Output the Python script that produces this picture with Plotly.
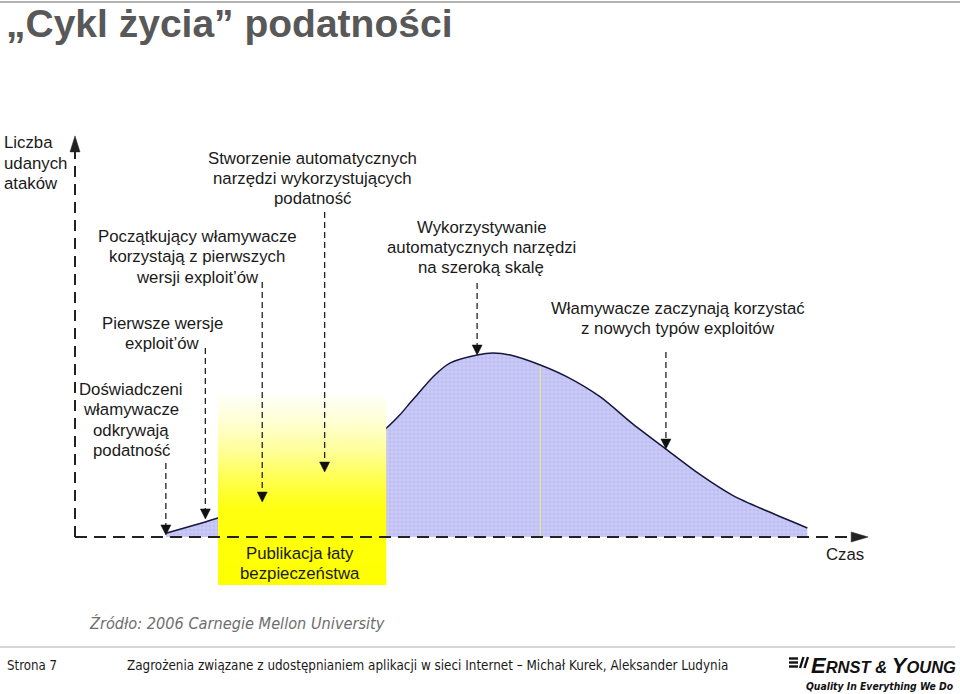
import plotly.graph_objects as go

# ---------------- data ----------------
# time axis (arbitrary units, 0 = vertical axis) and number of successful attacks (peak = 100)
curve_t = [11.5, 18.1, 23.4, 28.5, 33.5, 39.4, 41.1, 42.4, 43.3, 45.3, 47.5, 50.9, 52.9,
           55.1, 58.9, 62.3, 66.5, 70.6, 74.8, 79.1, 83.3, 87.6, 92.7]
curve_c = [2.0, 10.3, 18.5, 30.0, 43.0, 59.2, 66.3, 72.8, 77.2, 87.0, 94.6, 98.9, 100.0,
           98.9, 93.5, 87.0, 76.1, 61.5, 47.8, 34.0, 22.5, 14.1, 4.9]

# lifecycle events (dashed arrows): time, arrow tip value, arrow top value
event_t = [11.5, 16.5, 23.7, 31.6, 50.9, 74.8]
event_tip = [1.1, 9.8, 19.0, 35.3, 98.9, 47.8]
event_top = [40.2, 102.7, 138.6, 176.6, 138.0, 100.5]

# patch publication window (yellow band)
patch_t = [18.1, 39.4]
patch_c = [-26.1, 77.2]

# faint marker line inside the area
mark_t = [58.9]
mark_c = [93.0]

axis_t_end = 100.4
axis_c_end = 218.0

# ---------------- geometry helpers ----------------
W, H = 960, 694
X0, XS = 75.0, 7.9     # pixel of t=0, pixels per time unit
Y0, YS = 537.0, 1.84   # pixel of c=0, pixels per count unit

SANS = "Liberation Sans, Arial, sans-serif"
NARROW = "Liberation Sans Narrow, Arial Narrow, DejaVu Sans Condensed, Liberation Sans, sans-serif"
INK = "#1a1a1a"

fig = go.Figure()

# area under the curve
fig.add_trace(go.Scatter(
    x=curve_t, y=curve_c, mode="lines",
    line=dict(color="#16163a", width=1.5, shape="spline", smoothing=0.7),
    fill="tozeroy", fillcolor="#CACAF7",
    fillpattern=dict(shape="+", bgcolor="#CBCBF8", fgcolor="#A0A0E6", size=4, solidity=0.3),
    hoverinfo="skip"))

# faint vertical line in area
for t, c in zip(mark_t, mark_c):
    fig.add_trace(go.Scatter(x=[t, t], y=[0, c], mode="lines",
                             line=dict(color="#E4E49A", width=1.3), hoverinfo="skip"))

# yellow band with gradient
a, b = patch_t
lo, hi = patch_c
fig.add_trace(go.Scatter(
    x=[a, b, b, a, a], y=[lo, lo, hi, hi, lo], mode="none", fill="toself",
    fillgradient=dict(type="vertical",
                      colorscale=[[0, "#FFFF00"], [0.4, "#FFFF10"], [0.55, "#FFFF4C"],
                                  [0.7, "#FFFF96"], [0.85, "#FFFFD0"], [1, "#FFFFFA"]]),
    hoverinfo="skip"))

shapes = []

def head(t, c, direction, w, L):
    if direction == "down":
        dt, dc = w / 2 / XS, L / YS
        return f"M{t-dt},{c+dc} L{t+dt},{c+dc} L{t},{c} Z"
    if direction == "up":
        dt, dc = w / 2 / XS, L / YS
        return f"M{t-dt},{c-dc} L{t+dt},{c-dc} L{t},{c} Z"
    dt, dc = L / XS, w / 2 / YS
    return f"M{t-dt},{c-dc} L{t-dt},{c+dc} L{t},{c} Z"

AX = "#222222"
# axes
shapes.append(dict(type="line", xref="x", yref="y", x0=0, y0=0, x1=0, y1=axis_c_end - 15 / YS,
                   line=dict(color=AX, width=2, dash="11px,7px")))
shapes.append(dict(type="path", xref="x", yref="y", path=head(0, axis_c_end, "up", 10, 16),
                   fillcolor=AX, line=dict(color=AX, width=0.5)))
shapes.append(dict(type="line", xref="x", yref="y", x0=0, y0=0, x1=axis_t_end - 16 / XS, y1=0,
                   line=dict(color=AX, width=2, dash="12px,7px")))
shapes.append(dict(type="path", xref="x", yref="y", path=head(axis_t_end, 0, "right", 10, 17),
                   fillcolor=AX, line=dict(color=AX, width=0.5)))

# event arrows
for t, tip, top in zip(event_t, event_tip, event_top):
    shapes.append(dict(type="line", xref="x", yref="y", x0=t, y0=top, x1=t, y1=tip + 9 / YS,
                       line=dict(color=AX, width=1.3, dash="6px,4px")))
    shapes.append(dict(type="path", xref="x", yref="y", path=head(t, tip, "down", 10, 10),
                       fillcolor="#111111", line=dict(color="#111111", width=0.5)))

# slide frame lines
shapes.append(dict(type="line", xref="paper", yref="paper", x0=0, x1=1, y0=1 - 2 / H, y1=1 - 2 / H,
                   line=dict(color="#9a9a9a", width=1.5)))
shapes.append(dict(type="line", xref="paper", yref="paper", x0=0, x1=955 / W, y0=1 - 647 / H,
                   y1=1 - 647 / H, line=dict(color="#b0b0b0", width=1.2)))

# Ernst & Young icon
for yy in (658.5, 662.5, 666.5):
    shapes.append(dict(type="line", xref="paper", yref="paper", x0=789 / W, x1=798 / W,
                       y0=1 - yy / H, y1=1 - yy / H, line=dict(color="#111", width=2.4)))
for xx in (800, 804.5):
    shapes.append(dict(type="line", xref="paper", yref="paper", x0=xx / W, x1=(xx + 3.5) / W,
                       y0=1 - 668 / H, y1=1 - 657 / H, line=dict(color="#111", width=2.4)))

fig.update_layout(shapes=shapes)


def label(text, px, py, size=16.8, xanchor="center", color=INK, family=SANS, spacing=20.3):
    for i, line in enumerate(text.split("\n")):
        fig.add_annotation(text=line, x=px / W, y=1 - (py + i * spacing) / H,
                           xref="paper", yref="paper", showarrow=False,
                           xanchor=xanchor, yanchor="middle",
                           font=dict(size=size, color=color, family=family))


label("<b>„Cykl życia” podatności</b>", 4, 23.5, size=39, xanchor="left", color="#585858")
label("Liczba\nudanych\nataków", 2, 143, xanchor="left")
label("Stworzenie automatycznych\nnarzędzi wykorzystujących\npodatność", 312, 158)
label("Początkujący włamywacze\nkorzystają z pierwszych\nwersji exploit’ów", 197, 236.5)
label("Wykorzystywanie\nautomatycznych narzędzi\nna szeroką skalę", 481, 227)
label("Pierwsze wersje\nexploit’ów", 162, 323)
label("Włamywacze zaczynają korzystać\nz nowych typów exploitów", 678, 308.5)
label("Doświadczeni\nwłamywacze\nodkrywają\npodatność", 131, 389.5)
label("Publikacja łaty\nbezpieczeństwa", 300, 553)
label("Czas", 845, 554)

label("<i>Źródło: 2006 Carnegie Mellon University</i>", 87, 623, size=16.2, xanchor="left",
      color="#6e6e6e", family=NARROW)
label("Strona 7", 5, 665, size=13.2, xanchor="left", family=NARROW)
label("Zagrożenia związane z udostępnianiem aplikacji w sieci Internet – Michał Kurek, Aleksander Ludynia",
      125, 665, size=13.35, xanchor="left", family=NARROW)
label("<b><i>E<span style='font-size:16.5px'>RNST &amp; </span>Y<span style='font-size:16.5px'>OUNG</span></i></b>",
      958, 665, size=22, xanchor="right", color="#111")
label("<b><i>Quality In Everything We Do</i></b>", 956, 686, size=10.3, xanchor="right",
      color="#111", family=NARROW)

fig.update_layout(
    width=W, height=H, margin=dict(l=0, r=0, t=0, b=0),
    paper_bgcolor="white", plot_bgcolor="white", showlegend=False,
    xaxis=dict(range=[-X0 / XS, (W - X0) / XS], visible=False, fixedrange=True),
    yaxis=dict(range=[(Y0 - H) / YS, Y0 / YS], visible=False, fixedrange=True),
)

fig.write_html("out.html")
